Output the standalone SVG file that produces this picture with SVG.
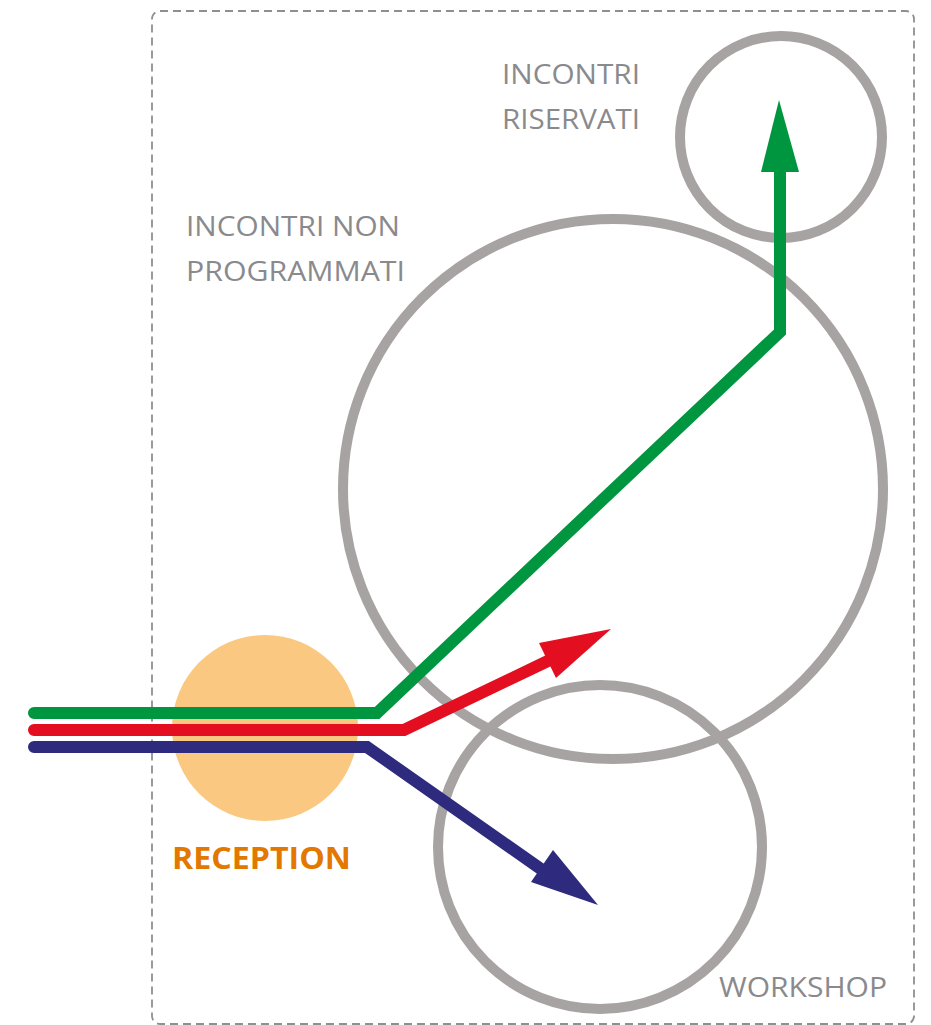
<svg xmlns="http://www.w3.org/2000/svg" width="931" height="1025" viewBox="0 0 931 1025">
<style>
.zone{fill:none;stroke:#A8A3A3;stroke-width:10}
.lbl{font-family:"Open Sans","Liberation Sans",sans-serif;font-size:28px;fill:#8A8A8D}
.path{fill:none;stroke-width:12;stroke-linejoin:miter}
</style>
<rect x="152" y="11" width="762" height="1013" rx="8" fill="none" stroke="#8F8F92" stroke-width="1.8" stroke-dasharray="8 5"/>
<g id="reception">
<circle cx="265" cy="728" r="93" fill="#FAC880"/>
<text x="172" y="869" font-family="'Open Sans','Liberation Sans',sans-serif" font-weight="bold" font-size="30" fill="#E37800" textLength="179" lengthAdjust="spacingAndGlyphs">RECEPTION</text>
</g>
<g id="incontri-non-programmati">
<circle class="zone" cx="613" cy="489" r="270"/>
<text class="lbl" x="186" y="236" textLength="214" lengthAdjust="spacingAndGlyphs">INCONTRI NON</text>
<text class="lbl" x="186" y="281" textLength="219" lengthAdjust="spacingAndGlyphs">PROGRAMMATI</text>
</g>
<g id="incontri-riservati">
<circle class="zone" cx="781" cy="137" r="101"/>
<text class="lbl" x="502" y="84" textLength="138" lengthAdjust="spacingAndGlyphs">INCONTRI</text>
<text class="lbl" x="502" y="129" textLength="138" lengthAdjust="spacingAndGlyphs">RISERVATI</text>
</g>
<g id="workshop">
<circle class="zone" cx="600" cy="847" r="162"/>
<text class="lbl" x="719" y="997" textLength="168" lengthAdjust="spacingAndGlyphs">WORKSHOP</text>
</g>
<g id="connectors">
<path class="path" stroke="#009640" stroke-linecap="round" d="M34 713 H377 L780 332 V170"/>
<polygon fill="#009640" points="761,172 799,172 779,100"/>
<path class="path" stroke="#E30F20" stroke-linecap="round" d="M34 730 H404 L552 659"/>
<polygon fill="#E30F20" points="539,643 556,678 611,629"/>
<path class="path" stroke="#2E2A7E" stroke-linecap="round" d="M34 747 H367 L548 874"/>
<polygon fill="#2E2A7E" points="553,850 531,882 598,905"/>
</g>
</svg>
